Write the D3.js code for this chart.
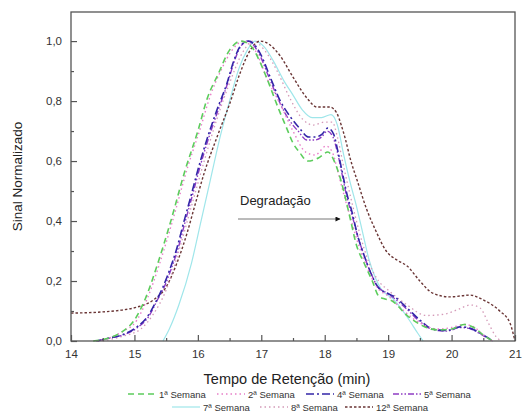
<!DOCTYPE html>
<html><head><meta charset="utf-8">
<script src="https://cdn.jsdelivr.net/npm/d3@7/dist/d3.min.js"></script>
<style>body{margin:0;background:#fff}svg{display:block;font-family:"Liberation Sans",Arial,sans-serif}</style>
</head><body><svg id="c" width="522" height="416"></svg>
<script>
const xTicks = [14,15,16,17,18,19,20,21];
const yTicks = [0,0.2,0.4,0.6,0.8,1.0];
const seriesNames = ["1ª Semana","2ª Semana","4ª Semana","5ª Semana","7ª Semana","8ª Semana","12ª Semana"];
const week1 = [[14.35,0],[14.6,0.01],[14.8,0.03],[15.0,0.07],[15.17,0.14],[15.37,0.26],[15.56,0.39],[15.8,0.57],[16.0,0.70],[16.15,0.81],[16.32,0.89],[16.5,0.97],[16.68,1.0],[16.85,0.98],[16.98,0.93],[17.08,0.88],[17.28,0.77],[17.4,0.71],[17.5,0.66],[17.6,0.63],[17.73,0.60],[17.9,0.61],[18.05,0.63],[18.15,0.60],[18.22,0.56],[18.3,0.50],[18.4,0.41],[18.5,0.32],[18.62,0.26],[18.75,0.20],[18.85,0.15],[18.95,0.14],[19.05,0.135],[19.3,0.085],[19.55,0.05],[19.8,0.037],[20.0,0.04],[20.2,0.055],[20.35,0.045],[20.5,0.02],[20.65,0]];
const week2 = [[14.4,0],[14.6,0.01],[14.8,0.03],[15.04,0.07],[15.2,0.14],[15.4,0.26],[15.6,0.40],[15.84,0.58],[16.04,0.71],[16.2,0.82],[16.36,0.90],[16.54,0.97],[16.72,1.0],[16.9,0.97],[17.1,0.87],[17.3,0.79],[17.5,0.70],[17.7,0.63],[17.85,0.62],[18.02,0.65],[18.12,0.63],[18.2,0.57],[18.3,0.49],[18.42,0.40],[18.55,0.31],[18.68,0.24],[18.82,0.18],[19.0,0.15],[19.25,0.10],[19.5,0.06],[19.8,0.04],[20.0,0.045],[20.2,0.055],[20.35,0.047],[20.5,0.02],[20.65,0]];
const week4 = [[14.4,0],[14.6,0.01],[14.8,0.02],[15.04,0.047],[15.2,0.08],[15.36,0.14],[15.45,0.18],[15.56,0.24],[15.67,0.31],[15.77,0.39],[15.9,0.49],[16.0,0.57],[16.14,0.67],[16.3,0.77],[16.46,0.86],[16.56,0.93],[16.66,0.98],[16.8,1.0],[16.98,0.96],[17.14,0.88],[17.3,0.80],[17.45,0.75],[17.6,0.71],[17.75,0.68],[17.85,0.68],[17.96,0.69],[18.05,0.71],[18.14,0.69],[18.2,0.64],[18.27,0.57],[18.35,0.49],[18.43,0.43],[18.52,0.35],[18.63,0.28],[18.72,0.23],[18.84,0.18],[18.98,0.16],[19.08,0.15],[19.3,0.11],[19.5,0.07],[19.7,0.04],[19.93,0.035],[20.13,0.047],[20.25,0.045],[20.5,0.02],[20.65,0]];
const week5 = [[14.42,0],[14.62,0.01],[14.82,0.02],[15.05,0.045],[15.22,0.08],[15.37,0.14],[15.47,0.18],[15.58,0.24],[15.69,0.31],[15.79,0.39],[15.92,0.49],[16.02,0.57],[16.16,0.67],[16.32,0.77],[16.47,0.86],[16.57,0.93],[16.67,0.98],[16.78,1.0],[16.96,0.96],[17.12,0.88],[17.28,0.80],[17.43,0.74],[17.58,0.70],[17.72,0.67],[17.84,0.67],[17.95,0.68],[18.04,0.70],[18.13,0.68],[18.2,0.63],[18.27,0.56],[18.35,0.48],[18.43,0.42],[18.52,0.35],[18.63,0.28],[18.72,0.23],[18.84,0.18],[18.98,0.16],[19.08,0.145],[19.3,0.105],[19.5,0.065],[19.7,0.038],[19.93,0.033],[20.13,0.045],[20.25,0.043],[20.5,0.018],[20.65,0]];
const week7 = [[15.45,0],[15.55,0.04],[15.7,0.12],[15.9,0.26],[16.05,0.40],[16.2,0.54],[16.35,0.68],[16.5,0.80],[16.65,0.91],[16.78,0.97],[16.9,1.0],[17.05,0.98],[17.2,0.93],[17.35,0.87],[17.5,0.82],[17.65,0.77],[17.8,0.745],[17.95,0.745],[18.1,0.755],[18.2,0.72],[18.3,0.62],[18.4,0.53],[18.5,0.45],[18.6,0.36],[18.7,0.27],[18.8,0.21],[18.9,0.17],[19.08,0.14],[19.3,0.08],[19.47,0.025],[19.55,0]];
const week8 = [[14.5,0],[14.8,0.015],[15.1,0.04],[15.3,0.09],[15.5,0.17],[15.7,0.30],[15.9,0.45],[16.1,0.60],[16.3,0.74],[16.5,0.86],[16.7,0.96],[16.87,1.0],[17.05,0.97],[17.25,0.90],[17.45,0.81],[17.65,0.74],[17.82,0.72],[18.0,0.73],[18.12,0.73],[18.2,0.68],[18.3,0.58],[18.42,0.47],[18.55,0.36],[18.7,0.26],[18.85,0.20],[19.0,0.17],[19.3,0.12],[19.6,0.085],[19.9,0.09],[20.1,0.105],[20.3,0.12],[20.45,0.11],[20.58,0.06],[20.7,0.015],[20.78,0]];
const week12 = [[14.0,0.093],[14.5,0.097],[14.8,0.103],[15.04,0.113],[15.3,0.137],[15.5,0.18],[15.67,0.26],[15.83,0.36],[15.95,0.45],[16.1,0.56],[16.32,0.69],[16.5,0.79],[16.66,0.89],[16.8,0.96],[16.98,1.0],[17.12,0.99],[17.3,0.95],[17.5,0.88],[17.72,0.81],[17.88,0.78],[18.08,0.78],[18.19,0.76],[18.26,0.72],[18.33,0.67],[18.4,0.61],[18.52,0.53],[18.66,0.44],[18.8,0.37],[18.97,0.30],[19.14,0.27],[19.3,0.25],[19.5,0.20],[19.7,0.16],[19.97,0.147],[20.29,0.153],[20.5,0.137],[20.76,0.10],[20.92,0.06],[21.0,0]];

const data = [week1,week2,week4,week5,week7,week8,week12];
const colors = ["#5ccc5c","#e87fc8","#3326a8","#8e3cc4","#9fe6ea","#d49ab8","#6a3535"];
const dashes = ["6,4","1.5,3","8,3,2,3","6,2,1.5,2,1.5,2",null,"1.5,3","2.5,2"];
const widths = [1.6,1.4,1.6,1.4,1.2,1.3,1.4];

const svg = d3.select("#c");
const L=71,R=515,T=12,B=341;
const x = d3.scaleLinear().domain([14,21]).range([L,R]);
const y = d3.scaleLinear().domain([0,1.097]).range([B,T]);

const line = d3.line().x(d=>x(d[0])).y(d=>y(d[1])).curve(d3.curveMonotoneX);
const g = svg.append("g");
const order=[4,6,5,3,2,1,0];
order.forEach(i=>{
  g.append("path").attr("d",line(data[i])).attr("fill","none")
   .attr("stroke",colors[i]).attr("stroke-width",widths[i])
   .attr("stroke-dasharray",dashes[i]);
});

// frame
svg.append("rect").attr("x",L).attr("y",T).attr("width",R-L).attr("height",B-T)
  .attr("fill","none").attr("stroke","#555").attr("stroke-width",1.3);

// axes with inward ticks
const fmt = d=>d3.format(".1f")(d).replace(".",",");
const xa = svg.append("g").attr("transform",`translate(0,${B})`)
  .call(d3.axisBottom(x).tickValues(xTicks).tickSize(-6).tickPadding(9).tickFormat(d3.format("d")));
const xm = svg.append("g").attr("transform",`translate(0,${B})`)
  .call(d3.axisBottom(x).tickValues(d3.range(14.5,21,1)).tickSize(-3).tickFormat(""));
const ya = svg.append("g").attr("transform",`translate(${L},0)`)
  .call(d3.axisLeft(y).tickValues(yTicks).tickSize(-6).tickPadding(9).tickFormat(fmt));
const ym = svg.append("g").attr("transform",`translate(${L},0)`)
  .call(d3.axisLeft(y).tickValues([0.1,0.3,0.5,0.7,0.9]).tickSize(-3).tickFormat(""));
[xa,xm,ya,ym].forEach(a=>{
  a.select(".domain").remove();
  a.selectAll("line").attr("stroke","#555").attr("stroke-width",1.2);
  a.selectAll("text").attr("fill","#333").style("font-size","11.5px").style("font-family","Liberation Sans, Arial, sans-serif");
});

// titles
svg.append("text").attr("x",287).attr("y",384).attr("text-anchor","middle")
  .style("font-size","14.5px").attr("fill","#222").text("Tempo de Retenção (min)");
svg.append("text").attr("transform",`translate(22,${(T+B)/2}) rotate(-90)`).attr("text-anchor","middle")
  .style("font-size","13.5px").attr("fill","#222").text("Sinal Normalizado");

// annotation
svg.append("text").attr("x",240).attr("y",205).style("font-size","13px").attr("fill","#222").text("Degradação");
svg.append("defs").append("marker").attr("id","ah").attr("viewBox","0 0 10 10").attr("refX",9).attr("refY",5)
  .attr("markerWidth",7).attr("markerHeight",5).attr("orient","auto")
  .append("path").attr("d","M0,0L10,5L0,10z").attr("fill","#111");
svg.append("line").attr("x1",238).attr("x2",340).attr("y1",219).attr("y2",219)
  .attr("stroke","#777").attr("stroke-width",1).attr("marker-end","url(#ah)");

// legend
const legPos = [[128,394],[217,394],[306,394],[393,394],[172,407],[260,407],[345,407]];
seriesNames.forEach((n,i)=>{
  const [lx,ly]=legPos[i];
  svg.append("line").attr("x1",lx).attr("x2",lx+28).attr("y1",ly).attr("y2",ly)
    .attr("stroke",colors[i]).attr("stroke-width",widths[i]).attr("stroke-dasharray",dashes[i]);
  svg.append("text").attr("x",lx+31).attr("y",ly+3.5).style("font-size","9.5px").attr("fill","#333").text(n);
});
</script></body></html>
